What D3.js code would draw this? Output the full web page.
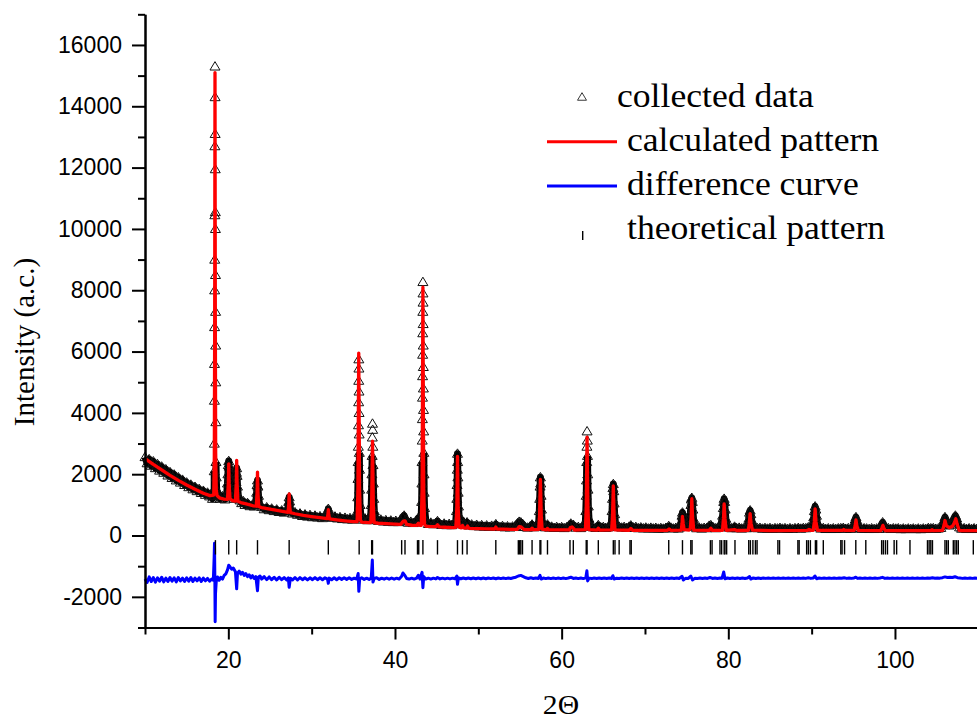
<!DOCTYPE html>
<html><head><meta charset="utf-8">
<script src="https://cdn.jsdelivr.net/npm/d3@7"></script>
<style>body{margin:0;background:#fff} svg{display:block}</style>
</head><body>
<svg id="chart" width="977" height="719"></svg>
<script>
// ---- data ----
const collectedData = [
[10.0,2560],[10.25,2360],[10.5,2490],[10.75,2280],[11.0,2420],[11.25,2200],[11.5,2330],[11.75,2120],[12.0,2250],[12.25,2050],[12.5,2160],[12.75,1960],[13.0,2070],[13.25,1880],[13.5,1990],[13.75,1800],[14.0,1900],[14.25,1730],[14.5,1820],[14.75,1650],[15.0,1730],[15.25,1580],[15.5,1660],[15.75,1510],[16.0,1590],[16.25,1450],[16.5,1520],[16.75,1390],[17.0,1460],[17.25,1330],[17.5,1400],[17.75,1280],[17.9,1350],[18.1,1200],[18.22,1300],
[18.30,1450],[18.31,2100],[18.32,3000],[18.33,4400],[18.34,5600],[18.35,6800],[18.36,8000],[18.37,9000],[18.38,10450],[18.39,12700],[18.40,15300],[18.41,14300],[18.42,13100],[18.43,11950],[18.44,10550],[18.45,10000],[18.46,8500],[18.47,7300],[18.48,6200],[18.49,5000],[18.50,3700],[18.52,2400],[18.55,1900],[18.60,1500],[18.8,1330],[19.0,1200],[19.3,1280],[19.6,1180],
[19.8,1350],[19.9,1700],[19.95,2000],[20.0,2300],[20.05,2430],[20.1,2250],[20.15,1900],[20.25,1500],[20.4,1250],
[20.7,1200],[20.85,1400],[20.93,1750],[20.97,2050],[21.0,2200],[21.05,1950],[21.1,1600],[21.2,1300],[21.4,1150],[21.6,1060],[21.8,1120],[22.0,1000],[22.3,1060],[22.6,960],[22.9,1010],[23.1,950],
[23.3,1100],[23.4,1400],[23.45,1650],[23.5,1800],[23.55,1600],[23.62,1300],[23.75,1000],[24.0,940],[24.3,860],[24.6,920],[24.9,830],[25.2,880],[25.5,800],[25.8,850],[26.1,770],[26.4,820],[26.7,750],[27.0,790],
[27.15,900],[27.25,1100],[27.3,1250],[27.35,1120],[27.45,880],[27.7,720],[28.0,760],[28.3,680],[28.6,720],[28.9,640],[29.2,690],[29.5,620],[29.8,670],[30.1,600],[30.4,650],[30.7,590],[31.0,630],[31.3,570],[31.6,620],
[31.85,700],[31.95,800],[32.0,870],[32.05,780],[32.2,610],[32.5,580],[32.8,620],[33.1,560],[33.4,600],[33.7,540],[34.0,580],[34.3,530],[34.6,570],[34.9,520],[35.2,560],[35.4,600],
[35.50,800],[35.53,1250],[35.56,1850],[35.58,2400],[35.60,2900],[35.62,3600],[35.64,4350],[35.65,5050],[35.66,5750],[35.67,5450],[35.68,4700],[35.69,4000],[35.70,3300],[35.72,2700],[35.74,2150],[35.76,1500],[35.80,1000],[35.9,650],[36.1,520],[36.4,560],[36.7,500],[36.95,560],
[37.10,700],[37.15,1000],[37.20,1500],[37.23,2000],[37.26,2600],[37.28,3200],[37.30,3650],[37.32,3450],[37.34,2900],[37.36,2300],[37.40,1700],[37.45,1200],[37.52,800],[37.7,520],[38.0,480],[38.3,520],[38.6,460],[38.9,500],[39.2,450],[39.5,490],[39.8,440],[40.1,480],[40.4,440],[40.7,470],[40.9,600],[41.1,650],[41.3,520],[41.6,420],[41.9,450],[42.2,410],[42.5,440],[42.75,560],[42.95,480],
[43.15,650],[43.20,1100],[43.23,1700],[43.25,2400],[43.27,3100],[43.29,3800],[43.30,4500],[43.31,5200],[43.32,5900],[43.33,6600],[43.34,7300],[43.35,8270],[43.36,7900],[43.37,7600],[43.38,6900],[43.39,6200],[43.40,5500],[43.41,4800],[43.42,4100],[43.44,3400],[43.46,2700],[43.48,2000],[43.50,1400],[43.55,900],[43.7,480],
[44.0,380],[44.3,420],[44.6,370],[44.9,410],[45.1,470],[45.3,400],[45.6,350],[45.9,390],[46.2,340],[46.5,380],[46.8,340],[47.1,370],
[47.30,480],[47.38,800],[47.42,1200],[47.45,1650],[47.48,2150],[47.50,2670],[47.52,2400],[47.55,1900],[47.58,1400],[47.62,950],[47.7,600],[47.85,420],[48.05,500],[48.3,380],[48.65,430],[48.9,330],[49.2,360],[49.5,310],[49.8,350],[50.1,300],[50.4,340],[50.7,290],[51.0,330],[51.3,285],[51.6,320],[51.9,290],[52.1,370],[52.3,300],[52.6,280],[52.9,310],[53.2,270],[53.5,300],[53.8,265],[54.1,295],[54.4,280],[54.7,400],[54.9,450],[55.1,430],[55.3,380],[55.6,280],[55.9,260],[56.2,290],[56.45,360],[56.7,270],[57.0,300],
[57.25,450],[57.32,800],[57.37,1200],[57.41,1600],[57.45,1900],[57.49,1700],[57.53,1300],[57.58,850],[57.65,500],[57.8,300],[58.05,270],[58.3,360],[58.55,260],[58.8,290],[59.1,250],[59.4,280],[59.7,250],[60.0,275],[60.3,245],[60.6,270],[60.9,330],[61.1,390],[61.4,350],[61.7,260],[62.0,280],[62.3,245],[62.6,290],
[62.85,450],[62.90,800],[62.95,1300],[62.98,1800],[63.01,2400],[63.03,2900],[63.05,3400],[63.08,3100],[63.10,2600],[63.13,2000],[63.16,1500],[63.20,950],[63.28,550],[63.45,300],[63.8,270],[64.1,250],[64.4,340],[64.7,260],[65.0,280],[65.3,250],[65.6,270],[65.85,300],
[65.98,450],[66.05,800],[66.10,1200],[66.15,1550],[66.20,1680],[66.25,1450],[66.30,1050],[66.36,700],[66.45,420],[66.6,300],[66.9,290],[67.2,260],[67.5,280],[67.8,250],[68.1,290],[68.3,330],[68.6,260],[68.9,280],[69.2,240],[69.5,265],[69.8,235],[70.1,260],[70.4,230],[70.7,255],[71.0,230],[71.3,250],[71.6,225],[71.9,245],[72.2,225],[72.5,250],[72.85,310],[73.1,260],[73.4,230],[73.7,250],[74.0,230],[74.2,270],
[74.35,450],[74.45,650],[74.50,750],[74.56,620],[74.65,400],[74.8,300],[75.0,280],[75.2,320],[75.35,500],
[75.45,750],[75.52,1000],[75.57,1180],[75.62,1230],[75.68,1100],[75.74,850],[75.82,550],[75.95,330],[76.2,240],[76.5,260],[76.8,230],[77.1,250],[77.4,240],[77.7,320],[77.9,340],[78.2,260],[78.5,240],[78.8,260],[79.05,300],[79.2,450],
[79.32,650],[79.40,900],[79.45,1100],[79.50,1200],[79.56,1100],[79.62,850],[79.70,550],[79.85,330],[80.1,260],[80.4,240],[80.75,290],[81.0,240],[81.3,255],[81.6,230],[81.9,250],[82.2,240],
[82.38,350],[82.47,550],[82.55,750],[82.62,820],[82.70,700],[82.80,500],[82.95,320],[83.2,260],[83.5,240],[83.8,250],[84.1,225],[84.4,245],[84.7,225],[85.0,245],[85.3,220],[85.6,240],[85.9,230],[86.2,250],[86.5,225],[86.8,240],[87.1,220],[87.4,240],[87.7,220],[88.0,240],[88.4,250],[88.7,225],[89.0,245],[89.3,240],[89.6,270],[89.9,280],
[90.15,400],[90.25,600],[90.33,800],[90.42,950],[90.50,850],[90.58,650],[90.68,420],[90.85,280],[91.1,230],[91.4,245],[91.7,215],[92.0,235],[92.3,215],[92.6,235],[92.9,215],[93.2,235],[93.5,240],[93.8,250],[94.1,220],[94.4,240],[94.7,220],[95.0,260],
[95.12,380],[95.22,520],[95.32,600],[95.42,500],[95.55,330],[95.75,240],[96.0,220],[96.3,235],[96.6,230],[96.9,215],[97.2,235],[97.5,215],[97.8,230],[98.1,220],[98.3,300],
[98.42,380],[98.52,430],[98.62,380],[98.75,280],[98.95,230],[99.2,240],[99.5,215],[99.8,235],[100.1,225],[100.4,235],[100.7,210],[101.0,230],[101.3,210],[101.6,230],[101.9,215],[102.2,230],[102.5,210],[102.8,230],[103.1,210],[103.4,230],[103.7,215],[104.0,245],[104.3,235],[104.6,240],[104.9,220],[105.2,230],[105.5,250],
[105.75,350],[105.88,500],[106.0,600],[106.12,520],[106.3,380],[106.5,330],[106.7,360],[106.9,450],[107.1,580],[107.25,650],[107.4,560],[107.55,400],[107.75,270],[108.0,225],[108.3,240],[108.6,215],[108.9,235],[109.2,215],[109.5,235],[109.8,215],[110.0,230]
];

const calculatedPattern = [
[10,2510],[11,2320],[12,2140],[13,1960],[14,1800],[15,1650],[16,1510],[17,1380],[17.8,1300],[18.25,1320],[18.32,2600],[18.36,6500],[18.40,15100],[18.44,7000],[18.48,2700],[18.55,1500],[18.65,1300],[19.0,1220],[19.5,1190],[19.9,1180],[20.0,1700],[20.05,2340],[20.1,1700],[20.2,1200],[20.5,1140],[20.85,1120],[20.95,1700],[21.0,2450],[21.05,1700],[21.15,1120],[21.5,1075],[22,1040],[22.5,1005],[23.0,970],[23.35,955],[23.45,1400],[23.5,2070],[23.55,1400],[23.65,945],[24,910],[25,860],[26,810],[27.0,760],[27.15,755],[27.25,1000],[27.3,1360],[27.35,1000],[27.45,745],[28,710],[29,660],[30,620],[31,580],[31.85,550],[31.95,680],[32.0,840],[32.05,680],[32.15,540],[33,510],[34,480],[35,455],[35.45,450],[35.55,1500],[35.6,3800],[35.65,5950],[35.7,3800],[35.75,1500],[35.85,500],[36.0,440],[37.0,418],[37.1,425],[37.2,1100],[37.3,3080],[37.4,1000],[37.5,420],[38,400],[39,385],[40,370],[40.7,362],[40.9,440],[41.0,470],[41.2,480],[41.4,360],[42,335],[42.6,328],[42.8,400],[42.95,330],[43.15,330],[43.25,1500],[43.3,4500],[43.35,8100],[43.4,4500],[43.45,1500],[43.55,360],[43.7,310],[44,300],[44.9,290],[45.1,350],[45.3,282],[46,270],[47.0,258],[47.3,265],[47.42,900],[47.5,2580],[47.58,900],[47.7,270],[47.95,250],[48.1,330],[48.25,248],[48.55,242],[48.7,310],[48.85,240],[49,235],[50,225],[51,218],[51.95,212],[52.1,275],[52.25,210],[53,206],[54,200],[54.7,205],[54.9,290],[55.1,280],[55.3,240],[55.5,195],[56.3,190],[56.45,240],[56.6,190],[57.25,200],[57.35,650],[57.45,1830],[57.55,650],[57.65,205],[58.15,186],[58.3,230],[58.45,186],[60,182],[60.9,182],[61.05,260],[61.25,280],[61.4,240],[61.55,180],[62.85,190],[62.95,900],[63.05,3210],[63.15,900],[63.25,195],[64.25,178],[64.4,240],[64.55,178],[66.0,185],[66.1,600],[66.2,1620],[66.3,600],[66.4,185],[68.1,172],[68.3,230],[68.5,172],[70,170],[72.7,168],[72.9,215],[73.1,168],[74.35,175],[74.45,400],[74.5,620],[74.58,400],[74.7,190],[75.3,180],[75.45,230],[75.55,650],[75.62,1200],[75.7,650],[75.85,175],[77.7,165],[77.9,240],[78.1,165],[79.3,170],[79.42,550],[79.5,1030],[79.6,550],[79.75,170],[80.8,190],[81,164],[82.4,170],[82.52,400],[82.62,710],[82.72,400],[82.9,175],[85,162],[89.5,165],[89.7,200],[89.9,170],[90.2,172],[90.32,450],[90.42,870],[90.52,450],[90.7,170],[93.7,165],[93.85,200],[94,165],[95.1,165],[95.22,320],[95.32,510],[95.42,320],[95.6,165],[98.3,162],[98.45,260],[98.55,330],[98.65,250],[98.85,160],[100,158],[104.3,158],[104.45,190],[104.6,158],[105.7,165],[105.9,350],[106.0,490],[106.15,330],[106.5,250],[106.9,300],[107.1,400],[107.3,545],[107.45,380],[107.7,170],[108,158],[110,157]
];

const differenceCurve = [
[10.0,-1420],[10.25,-1530],[10.5,-1350],[10.75,-1500],[11.0,-1370],[11.25,-1520],[11.5,-1380],[11.75,-1490],[12.0,-1360],[12.25,-1510],[12.5,-1390],[12.75,-1500],[13.0,-1370],[13.25,-1490],[13.5,-1380],[13.75,-1510],[14.0,-1370],[14.25,-1480],[14.5,-1390],[14.75,-1500],[15.0,-1380],[15.25,-1490],[15.5,-1370],[15.75,-1500],[16.0,-1390],[16.25,-1480],[16.5,-1380],[16.75,-1500],[17.0,-1390],[17.25,-1480],[17.5,-1400],[17.75,-1490],[18.0,-1420],[18.2,-1460],[18.3,-700],[18.34,-250],[18.38,-1300],[18.42,-2810],[18.46,-1900],[18.55,-1500],[18.7,-1350],[18.9,-1460],[19.1,-1360],[19.3,-1420],[19.5,-1300],[19.7,-1250],[19.9,-1120],[20.05,-970],[20.2,-1020],[20.4,-1100],[20.6,-1060],[20.85,-1180],[21.0,-1740],[21.1,-1230],[21.3,-1160],[21.5,-1260],[21.7,-1200],[21.9,-1300],[22.1,-1240],[22.3,-1340],[22.5,-1280],[22.7,-1380],[22.9,-1310],[23.1,-1400],[23.3,-1340],[23.5,-1800],[23.6,-1360],[23.8,-1320],[24.0,-1420],[24.3,-1340],[24.6,-1440],[24.9,-1350],[25.2,-1440],[25.5,-1360],[25.8,-1450],[26.1,-1360],[26.4,-1440],[26.7,-1370],[27.0,-1450],[27.2,-1380],[27.3,-1690],[27.45,-1390],[27.7,-1450],[28.0,-1370],[28.3,-1450],[28.6,-1370],[28.9,-1440],[29.2,-1380],[29.5,-1450],[29.8,-1380],[30.1,-1440],[30.4,-1370],[30.7,-1440],[31.0,-1380],[31.3,-1440],[31.6,-1380],[31.9,-1420],[32.0,-1560],[32.1,-1390],[32.4,-1440],[32.7,-1380],[33.0,-1440],[33.3,-1380],[33.6,-1430],[33.9,-1380],[34.2,-1430],[34.5,-1380],[34.8,-1430],[35.1,-1390],[35.4,-1420],[35.58,-1240],[35.66,-1820],[35.76,-1420],[36.0,-1380],[36.3,-1430],[36.6,-1390],[36.9,-1430],[37.15,-1390],[37.28,-800],[37.36,-1520],[37.5,-1400],[37.8,-1380],[38.1,-1430],[38.4,-1390],[38.7,-1425],[39.0,-1385],[39.3,-1425],[39.6,-1385],[39.9,-1425],[40.2,-1390],[40.5,-1420],[40.8,-1330],[40.95,-1220],[41.15,-1290],[41.4,-1400],[41.7,-1420],[42.0,-1390],[42.3,-1420],[42.6,-1390],[42.8,-1300],[43.0,-1420],[43.25,-1200],[43.35,-1700],[43.45,-1340],[43.7,-1420],[44.0,-1390],[44.3,-1420],[44.6,-1390],[44.9,-1415],[45.1,-1370],[45.4,-1415],[45.7,-1390],[46.0,-1415],[46.3,-1390],[46.6,-1415],[46.9,-1390],[47.2,-1410],[47.42,-1320],[47.5,-1590],[47.62,-1380],[47.9,-1410],[48.2,-1385],[48.5,-1410],[48.8,-1385],[49.1,-1410],[49.4,-1385],[49.7,-1410],[50.0,-1385],[50.3,-1410],[50.6,-1385],[50.9,-1410],[51.2,-1385],[51.5,-1405],[51.8,-1385],[52.1,-1410],[52.4,-1385],[52.7,-1405],[53.0,-1385],[53.3,-1405],[53.6,-1385],[53.9,-1400],[54.2,-1380],[54.5,-1360],[54.8,-1320],[55.1,-1300],[55.4,-1340],[55.7,-1380],[56.0,-1400],[56.3,-1380],[56.6,-1400],[56.9,-1385],[57.2,-1400],[57.4,-1300],[57.55,-1420],[57.8,-1385],[58.1,-1405],[58.4,-1385],[58.7,-1405],[59.0,-1385],[59.3,-1405],[59.6,-1385],[59.9,-1405],[60.2,-1385],[60.5,-1405],[60.8,-1385],[61.1,-1360],[61.4,-1400],[61.7,-1385],[62.0,-1405],[62.3,-1385],[62.6,-1405],[62.9,-1380],[63.03,-1150],[63.12,-1480],[63.3,-1390],[63.6,-1405],[63.9,-1385],[64.2,-1400],[64.5,-1385],[64.8,-1400],[65.1,-1385],[65.4,-1400],[65.7,-1385],[66.0,-1400],[66.15,-1310],[66.3,-1420],[66.6,-1390],[66.9,-1400],[67.2,-1385],[67.5,-1400],[67.8,-1385],[68.1,-1400],[68.4,-1385],[68.7,-1400],[69.0,-1385],[69.3,-1400],[69.6,-1385],[69.9,-1400],[70.2,-1385],[70.5,-1400],[70.8,-1385],[71.1,-1400],[71.4,-1385],[71.7,-1400],[72.0,-1385],[72.3,-1400],[72.6,-1385],[72.9,-1400],[73.2,-1385],[73.5,-1400],[73.8,-1385],[74.1,-1400],[74.45,-1330],[74.6,-1450],[74.9,-1390],[75.2,-1400],[75.5,-1320],[75.7,-1450],[76.0,-1390],[76.3,-1400],[76.6,-1385],[76.9,-1400],[77.2,-1385],[77.5,-1400],[77.8,-1370],[78.1,-1400],[78.4,-1385],[78.7,-1400],[79.0,-1385],[79.25,-1390],[79.45,-1190],[79.6,-1410],[79.9,-1385],[80.2,-1400],[80.5,-1385],[80.8,-1400],[81.1,-1385],[81.4,-1400],[81.7,-1385],[82.0,-1400],[82.3,-1385],[82.55,-1340],[82.7,-1420],[83.0,-1385],[83.3,-1400],[83.6,-1385],[83.9,-1400],[84.2,-1385],[84.5,-1398],[84.8,-1385],[85.1,-1398],[85.4,-1385],[85.7,-1398],[86.0,-1385],[86.3,-1398],[86.6,-1385],[86.9,-1398],[87.2,-1385],[87.5,-1398],[87.8,-1385],[88.1,-1398],[88.4,-1385],[88.7,-1398],[89.0,-1385],[89.3,-1398],[89.6,-1380],[89.9,-1398],[90.2,-1385],[90.4,-1320],[90.6,-1410],[90.9,-1385],[91.2,-1398],[91.5,-1385],[91.8,-1398],[92.1,-1385],[92.4,-1398],[92.7,-1385],[93.0,-1398],[93.3,-1385],[93.6,-1395],[93.9,-1380],[94.2,-1398],[94.5,-1385],[94.8,-1398],[95.1,-1385],[95.3,-1360],[95.5,-1398],[95.8,-1385],[96.1,-1398],[96.4,-1385],[96.7,-1398],[97.0,-1385],[97.3,-1398],[97.6,-1385],[97.9,-1398],[98.2,-1385],[98.5,-1365],[98.8,-1398],[99.1,-1385],[99.4,-1398],[99.7,-1385],[100.0,-1398],[100.3,-1385],[100.6,-1398],[100.9,-1385],[101.2,-1398],[101.5,-1385],[101.8,-1398],[102.1,-1385],[102.4,-1398],[102.7,-1385],[103.0,-1398],[103.3,-1385],[103.6,-1398],[103.9,-1385],[104.2,-1395],[104.5,-1380],[104.8,-1395],[105.1,-1385],[105.4,-1390],[105.7,-1375],[106.0,-1350],[106.3,-1370],[106.6,-1360],[106.9,-1370],[107.2,-1345],[107.5,-1375],[107.8,-1385],[108.1,-1398],[108.4,-1385],[108.7,-1398],[109.0,-1385],[109.3,-1398],[109.6,-1385],[110.0,-1395]
];

const reflections = [18.45,20.05,21.0,23.5,27.3,32.0,35.7,37.2,37.3,40.8,41.2,42.7,42.85,43.35,45.1,47.5,48.1,48.65,52.1,54.8,54.95,55.1,55.3,56.45,57.4,57.5,58.3,61.0,61.4,62.95,63.05,64.4,66.2,66.4,66.9,68.2,68.35,72.85,74.5,75.5,75.65,77.85,78.05,79.0,79.2,79.5,79.6,79.8,80.8,82.45,82.65,82.95,83.25,83.45,85.95,86.15,88.35,88.5,89.4,89.6,89.85,90.45,90.6,91.4,93.5,93.65,93.95,95.3,96.5,98.4,98.6,98.85,99.1,99.9,100.2,101.8,103.9,104.1,104.3,104.5,106.0,106.2,106.4,107.0,107.2,107.4,107.6,109.4];

const xMajorTicks = [20, 40, 60, 80, 100];
const xMinorTicks = [10, 30, 50, 70, 90, 110];
const yMajorTicks = [-2000, 0, 2000, 4000, 6000, 8000, 10000, 12000, 14000, 16000];
const yMinorTicks = [-3000, -1000, 1000, 3000, 5000, 7000, 9000, 11000, 13000, 15000, 17000];
const legendLabels = ["collected data", "calculated pattern", "difference curve", "theoretical pattern"];
const xTitle = "2\u0398";
const yTitle = "Intensity (a.c.)";

// ---- drawing ----
const svg = d3.select("#chart");
const x = d3.scaleLinear().domain([10, 110]).range([145, 978.3]);
const y = d3.scaleLinear().domain([-3000, 17000]).range([627.5, 14.3]);
const sans = "'Liberation Sans', Arial, sans-serif";
const serif = "'Liberation Serif', 'Times New Roman', serif";
const triPath = "M0,-4.8L5,3.6L-5,3.6Z";
const plainNumber = d => String(d);
const denseLimit = 2700; // above this the overlapping markers no longer merge into a solid band

const plot = svg.append("g");

// collected data: dense merged band of markers + individual triangle markers
const line = d3.line().x(d => x(d[0])).y(d => y(d[1]));
const bandLine = d3.line().defined(d => d[1] <= denseLimit).x(d => x(d[0])).y(d => y(d[1]));
plot.append("path").datum(collectedData)
  .attr("d", bandLine).attr("fill", "none").attr("stroke", "#000")
  .attr("stroke-width", 7).attr("stroke-linejoin", "round");
plot.append("g").selectAll("path").data(collectedData).join("path")
  .attr("transform", d => `translate(${x(d[0])},${y(d[1])})`)
  .attr("d", triPath).attr("fill", "none").attr("stroke", "#111").attr("stroke-width", 1);

// calculated pattern
plot.append("path").datum(calculatedPattern)
  .attr("d", line).attr("fill", "none").attr("stroke", "#ff0000")
  .attr("stroke-width", 3.3).attr("stroke-linejoin", "round");

// difference curve
plot.append("path").datum(differenceCurve)
  .attr("d", line).attr("fill", "none").attr("stroke", "#0000ff")
  .attr("stroke-width", 3).attr("stroke-linejoin", "round");

// theoretical reflections
plot.append("g").selectAll("line").data(reflections).join("line")
  .attr("x1", d => x(d)).attr("x2", d => x(d))
  .attr("y1", y(-150)).attr("y2", y(-620))
  .attr("stroke", "#000").attr("stroke-width", 1.4);

// axes
function styleAxis(g) {
  g.select(".domain").attr("stroke", "#000").attr("stroke-width", 2);
  g.selectAll(".tick line").attr("stroke", "#000").attr("stroke-width", 2);
  g.selectAll(".tick text").attr("fill", "#000").style("font-family", sans).style("font-size", "23px");
}
svg.append("g").attr("transform", `translate(0,${y(-3000)})`)
  .call(d3.axisBottom(x).tickValues(xMinorTicks).tickSize(7).tickSizeOuter(0).tickFormat(""))
  .call(styleAxis);
svg.append("g").attr("transform", `translate(0,${y(-3000)})`)
  .call(d3.axisBottom(x).tickValues(xMajorTicks).tickSize(12).tickSizeOuter(0).tickPadding(12).tickFormat(plainNumber))
  .call(styleAxis);
svg.append("g").attr("transform", `translate(${x(10)},0)`)
  .call(d3.axisLeft(y).tickValues(yMinorTicks).tickSize(7).tickSizeOuter(0).tickFormat(""))
  .call(styleAxis);
svg.append("g").attr("transform", `translate(${x(10)},0)`)
  .call(d3.axisLeft(y).tickValues(yMajorTicks).tickSize(13).tickSizeOuter(0).tickPadding(10).tickFormat(plainNumber))
  .call(styleAxis);

// axis titles
svg.append("text").text(yTitle)
  .attr("transform", "translate(34,342) rotate(-90)")
  .attr("text-anchor", "middle").style("font-family", serif).style("font-size", "29px").attr("fill", "#000");
svg.append("text").text(xTitle)
  .attr("transform", "translate(561,714) scale(1.06,1)")
  .attr("text-anchor", "middle").style("font-family", serif).style("font-size", "28px").attr("fill", "#000");

// legend
const leg = svg.append("g");
leg.append("path").attr("d", triPath).attr("transform", "translate(582,97) scale(0.9)")
  .attr("fill", "none").attr("stroke", "#222").attr("stroke-width", 1);
leg.append("line").attr("x1", 547).attr("x2", 617).attr("y1", 141.7).attr("y2", 141.7)
  .attr("stroke", "#ff0000").attr("stroke-width", 3);
leg.append("line").attr("x1", 547).attr("x2", 617).attr("y1", 186).attr("y2", 186)
  .attr("stroke", "#0000ff").attr("stroke-width", 3);
leg.append("line").attr("x1", 582.7).attr("x2", 582.7).attr("y1", 231).attr("y2", 240)
  .attr("stroke", "#000").attr("stroke-width", 1.4);
const legPos = [[617, 106.5], [627, 150.5], [627, 195], [627, 238.5]];
leg.selectAll("text.lab").data(legendLabels).join("text").attr("class", "lab")
  .text(d => d)
  .attr("transform", (d, i) => `translate(${legPos[i][0]},${legPos[i][1]}) scale(1.08,1)`)
  .style("font-family", serif).style("font-size", "33px").attr("fill", "#000");
</script>
</body></html>
